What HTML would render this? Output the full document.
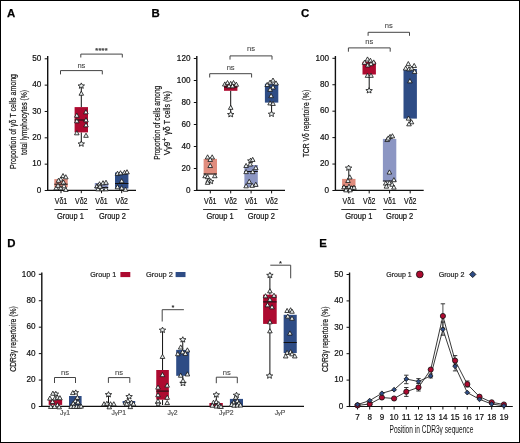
<!DOCTYPE html>
<html><head><meta charset="utf-8"><style>
html,body{margin:0;padding:0;background:#fff;}
body{width:520px;height:443px;overflow:hidden;position:relative;}
.frame{position:absolute;left:0;top:0;width:518px;height:441px;border:1px solid #000;}
svg{position:absolute;left:0;top:0;will-change:transform;}
</style></head><body>
<svg width="520" height="443" viewBox="0 0 520 443" font-family='"Liberation Sans", sans-serif'>
<rect x="0" y="0" width="520" height="443" fill="#fff"/>
<text x="7.00" y="16.80" font-size="11.4" text-anchor="start" fill="#000" font-weight="bold" stroke="#000" stroke-width="0.25">A</text>
<text x="151.60" y="16.90" font-size="11.4" text-anchor="start" fill="#000" font-weight="bold" stroke="#000" stroke-width="0.25">B</text>
<text x="300.90" y="16.90" font-size="11.4" text-anchor="start" fill="#000" font-weight="bold" stroke="#000" stroke-width="0.25">C</text>
<text x="7.30" y="246.70" font-size="11.4" text-anchor="start" fill="#000" font-weight="bold" stroke="#000" stroke-width="0.25">D</text>
<text x="319.20" y="246.70" font-size="11.4" text-anchor="start" fill="#000" font-weight="bold" stroke="#000" stroke-width="0.25">E</text>
<text x="0" y="0" font-size="9.5" text-anchor="middle" fill="#111" stroke="#111" stroke-width="0.2" transform="translate(16.00,121.50) rotate(-90)" textLength="95" lengthAdjust="spacingAndGlyphs">Proportion of γδ T cells among</text>
<text x="0" y="0" font-size="9.3" text-anchor="middle" fill="#111" stroke="#111" stroke-width="0.2" transform="translate(26.60,122.50) rotate(-90)" textLength="65" lengthAdjust="spacingAndGlyphs">total lymphocytes (%)</text>
<line x1="47.70" y1="56.00" x2="47.70" y2="190.90" stroke="#111" stroke-width="1.4"/>
<line x1="44.70" y1="190.50" x2="47.70" y2="190.50" stroke="#111" stroke-width="1"/>
<text x="41.40" y="192.75" font-size="8.6" text-anchor="end" fill="#111" font-weight="normal"  textLength="4.55" lengthAdjust="spacingAndGlyphs" stroke="#111" stroke-width="0.2">0</text>
<line x1="44.70" y1="164.16" x2="47.70" y2="164.16" stroke="#111" stroke-width="1"/>
<text x="41.40" y="166.41" font-size="8.6" text-anchor="end" fill="#111" font-weight="normal"  textLength="9.1" lengthAdjust="spacingAndGlyphs" stroke="#111" stroke-width="0.2">10</text>
<line x1="44.70" y1="137.82" x2="47.70" y2="137.82" stroke="#111" stroke-width="1"/>
<text x="41.40" y="140.07" font-size="8.6" text-anchor="end" fill="#111" font-weight="normal"  textLength="9.1" lengthAdjust="spacingAndGlyphs" stroke="#111" stroke-width="0.2">20</text>
<line x1="44.70" y1="111.48" x2="47.70" y2="111.48" stroke="#111" stroke-width="1"/>
<text x="41.40" y="113.73" font-size="8.6" text-anchor="end" fill="#111" font-weight="normal"  textLength="9.1" lengthAdjust="spacingAndGlyphs" stroke="#111" stroke-width="0.2">30</text>
<line x1="44.70" y1="85.14" x2="47.70" y2="85.14" stroke="#111" stroke-width="1"/>
<text x="41.40" y="87.39" font-size="8.6" text-anchor="end" fill="#111" font-weight="normal"  textLength="9.1" lengthAdjust="spacingAndGlyphs" stroke="#111" stroke-width="0.2">40</text>
<line x1="44.70" y1="58.80" x2="47.70" y2="58.80" stroke="#111" stroke-width="1"/>
<text x="41.40" y="61.05" font-size="8.6" text-anchor="end" fill="#111" font-weight="normal"  textLength="9.1" lengthAdjust="spacingAndGlyphs" stroke="#111" stroke-width="0.2">50</text>
<line x1="47.70" y1="190.30" x2="136.00" y2="190.30" stroke="#111" stroke-width="1.2"/>
<line x1="61.00" y1="190.50" x2="61.00" y2="193.20" stroke="#111" stroke-width="1"/>
<line x1="81.30" y1="190.50" x2="81.30" y2="193.20" stroke="#111" stroke-width="1"/>
<line x1="101.50" y1="190.50" x2="101.50" y2="193.20" stroke="#111" stroke-width="1"/>
<line x1="121.70" y1="190.50" x2="121.70" y2="193.20" stroke="#111" stroke-width="1"/>
<rect x="54.30" y="179.10" width="13.40" height="8.20" fill="#E08C7D"/>
<line x1="54.30" y1="184.20" x2="67.70" y2="184.20" stroke="#111" stroke-width="1"/>
<line x1="81.30" y1="85.60" x2="81.30" y2="107.10" stroke="#111" stroke-width="1"/>
<line x1="81.30" y1="132.40" x2="81.30" y2="143.60" stroke="#111" stroke-width="1"/>
<rect x="74.60" y="107.10" width="13.40" height="25.30" fill="#AD0A30"/>
<line x1="74.60" y1="120.00" x2="88.00" y2="120.00" stroke="#111" stroke-width="1"/>
<rect x="94.80" y="183.00" width="13.40" height="5.80" fill="#8C96C3"/>
<line x1="94.80" y1="187.50" x2="108.20" y2="187.50" stroke="#111" stroke-width="1"/>
<rect x="115.00" y="172.50" width="13.40" height="16.00" fill="#2E4C85"/>
<line x1="115.00" y1="183.50" x2="128.40" y2="183.50" stroke="#111" stroke-width="1"/>
<polygon points="63.00,173.50 60.70,177.64 65.30,177.64" fill="#eef3f3" stroke="#111" stroke-width="0.8" stroke-linejoin="miter"/>
<polygon points="65.80,174.70 63.50,178.84 68.10,178.84" fill="#eef3f3" stroke="#111" stroke-width="0.8" stroke-linejoin="miter"/>
<polygon points="60.80,176.90 58.50,181.04 63.10,181.04" fill="#eef3f3" stroke="#111" stroke-width="0.8" stroke-linejoin="miter"/>
<polygon points="58.50,178.20 56.20,182.34 60.80,182.34" fill="#eef3f3" stroke="#111" stroke-width="0.8" stroke-linejoin="miter"/>
<polygon points="63.50,180.00 61.20,184.14 65.80,184.14" fill="#eef3f3" stroke="#111" stroke-width="0.8" stroke-linejoin="miter"/>
<polygon points="56.20,185.70 53.90,189.84 58.50,189.84" fill="#eef3f3" stroke="#111" stroke-width="0.8" stroke-linejoin="miter"/>
<polygon points="60.80,185.70 58.50,189.84 63.10,189.84" fill="#eef3f3" stroke="#111" stroke-width="0.8" stroke-linejoin="miter"/>
<polygon points="65.80,187.30 63.50,191.44 68.10,191.44" fill="#eef3f3" stroke="#111" stroke-width="0.8" stroke-linejoin="miter"/>
<polygon points="58.00,183.20 55.70,187.34 60.30,187.34" fill="#eef3f3" stroke="#111" stroke-width="0.8" stroke-linejoin="miter"/>
<polygon points="64.00,183.70 61.70,187.84 66.30,187.84" fill="#eef3f3" stroke="#111" stroke-width="0.8" stroke-linejoin="miter"/>
<polygon points="81.30,82.91 82.20,84.81 84.53,84.98 82.76,86.32 83.30,88.32 81.30,87.25 79.30,88.32 79.84,86.32 78.07,84.98 80.40,84.81" fill="#eef3f3" stroke="#111" stroke-width="0.8"/>
<polygon points="81.30,91.10 79.00,95.24 83.60,95.24" fill="#eef3f3" stroke="#111" stroke-width="0.8" stroke-linejoin="miter"/>
<polygon points="85.90,109.70 83.60,113.84 88.20,113.84" fill="#eef3f3" stroke="#111" stroke-width="0.8" stroke-linejoin="miter"/>
<polygon points="76.80,113.10 74.50,117.24 79.10,117.24" fill="#eef3f3" stroke="#111" stroke-width="0.8" stroke-linejoin="miter"/>
<polygon points="76.80,118.70 74.50,122.84 79.10,122.84" fill="#eef3f3" stroke="#111" stroke-width="0.8" stroke-linejoin="miter"/>
<polygon points="86.00,117.70 83.70,121.84 88.30,121.84" fill="#eef3f3" stroke="#111" stroke-width="0.8" stroke-linejoin="miter"/>
<polygon points="86.00,122.70 83.70,126.84 88.30,126.84" fill="#eef3f3" stroke="#111" stroke-width="0.8" stroke-linejoin="miter"/>
<polygon points="76.80,130.70 74.50,134.84 79.10,134.84" fill="#eef3f3" stroke="#111" stroke-width="0.8" stroke-linejoin="miter"/>
<polygon points="86.00,133.20 83.70,137.34 88.30,137.34" fill="#eef3f3" stroke="#111" stroke-width="0.8" stroke-linejoin="miter"/>
<polygon points="81.30,140.91 82.20,142.81 84.53,142.98 82.76,144.32 83.30,146.32 81.30,145.25 79.30,146.32 79.84,144.32 78.07,142.98 80.40,142.81" fill="#eef3f3" stroke="#111" stroke-width="0.8"/>
<polygon points="97.00,183.70 94.70,187.84 99.30,187.84" fill="#eef3f3" stroke="#111" stroke-width="0.8" stroke-linejoin="miter"/>
<polygon points="99.50,181.70 97.20,185.84 101.80,185.84" fill="#eef3f3" stroke="#111" stroke-width="0.8" stroke-linejoin="miter"/>
<polygon points="103.00,180.70 100.70,184.84 105.30,184.84" fill="#eef3f3" stroke="#111" stroke-width="0.8" stroke-linejoin="miter"/>
<polygon points="106.00,180.20 103.70,184.34 108.30,184.34" fill="#eef3f3" stroke="#111" stroke-width="0.8" stroke-linejoin="miter"/>
<polygon points="98.00,186.70 95.70,190.84 100.30,190.84" fill="#eef3f3" stroke="#111" stroke-width="0.8" stroke-linejoin="miter"/>
<polygon points="102.00,186.70 99.70,190.84 104.30,190.84" fill="#eef3f3" stroke="#111" stroke-width="0.8" stroke-linejoin="miter"/>
<polygon points="106.00,186.70 103.70,190.84 108.30,190.84" fill="#eef3f3" stroke="#111" stroke-width="0.8" stroke-linejoin="miter"/>
<polygon points="100.00,184.20 97.70,188.34 102.30,188.34" fill="#eef3f3" stroke="#111" stroke-width="0.8" stroke-linejoin="miter"/>
<polygon points="117.50,171.20 115.20,175.34 119.80,175.34" fill="#eef3f3" stroke="#111" stroke-width="0.8" stroke-linejoin="miter"/>
<polygon points="120.50,170.70 118.20,174.84 122.80,174.84" fill="#eef3f3" stroke="#111" stroke-width="0.8" stroke-linejoin="miter"/>
<polygon points="124.50,170.20 122.20,174.34 126.80,174.34" fill="#eef3f3" stroke="#111" stroke-width="0.8" stroke-linejoin="miter"/>
<polygon points="127.00,169.70 124.70,173.84 129.30,173.84" fill="#eef3f3" stroke="#111" stroke-width="0.8" stroke-linejoin="miter"/>
<polygon points="121.70,178.70 119.40,182.84 124.00,182.84" fill="#eef3f3" stroke="#111" stroke-width="0.8" stroke-linejoin="miter"/>
<polygon points="117.50,184.70 115.20,188.84 119.80,188.84" fill="#eef3f3" stroke="#111" stroke-width="0.8" stroke-linejoin="miter"/>
<polygon points="121.70,185.70 119.40,189.84 124.00,189.84" fill="#eef3f3" stroke="#111" stroke-width="0.8" stroke-linejoin="miter"/>
<polygon points="125.50,187.20 123.20,191.34 127.80,191.34" fill="#eef3f3" stroke="#111" stroke-width="0.8" stroke-linejoin="miter"/>
<path d="M60.50,74.40 V70.60 H102.30 V74.40" fill="none" stroke="#444" stroke-width="1"/>
<text x="81.40" y="67.90" font-size="7.6" text-anchor="middle" fill="#444" font-weight="normal" stroke="#444" stroke-width="0.08">ns</text>
<path d="M80.80,57.50 V54.10 H122.30 V57.50" fill="none" stroke="#444" stroke-width="1"/>
<text x="101.55" y="53.30" font-size="7.2" text-anchor="middle" fill="#444" font-weight="normal" stroke="#444" stroke-width="0.08"><tspan font-weight="bold" stroke="#333" stroke-width="0.15" letter-spacing="0.3">****</tspan></text>
<text x="61.00" y="203.60" font-size="8.4" text-anchor="middle" fill="#111" font-weight="normal"  textLength="12.4" lengthAdjust="spacingAndGlyphs" stroke="#111" stroke-width="0.2">Vδ1</text>
<text x="81.30" y="203.60" font-size="8.4" text-anchor="middle" fill="#111" font-weight="normal"  textLength="12.4" lengthAdjust="spacingAndGlyphs" stroke="#111" stroke-width="0.2">Vδ2</text>
<text x="101.50" y="203.60" font-size="8.4" text-anchor="middle" fill="#111" font-weight="normal"  textLength="12.4" lengthAdjust="spacingAndGlyphs" stroke="#111" stroke-width="0.2">Vδ1</text>
<text x="121.70" y="203.60" font-size="8.4" text-anchor="middle" fill="#111" font-weight="normal"  textLength="12.4" lengthAdjust="spacingAndGlyphs" stroke="#111" stroke-width="0.2">Vδ2</text>
<line x1="54.40" y1="209.50" x2="88.00" y2="209.50" stroke="#333" stroke-width="1"/>
<line x1="95.80" y1="209.50" x2="129.40" y2="209.50" stroke="#333" stroke-width="1"/>
<text x="70.40" y="218.60" font-size="8.4" text-anchor="middle" fill="#111" font-weight="normal"  textLength="26.9" lengthAdjust="spacingAndGlyphs" stroke="#111" stroke-width="0.2">Group 1</text>
<text x="112.40" y="218.60" font-size="8.4" text-anchor="middle" fill="#111" font-weight="normal"  textLength="26.9" lengthAdjust="spacingAndGlyphs" stroke="#111" stroke-width="0.2">Group 2</text>
<text x="0" y="0" font-size="9" text-anchor="middle" fill="#111" stroke="#111" stroke-width="0.2" transform="translate(160.00,122.80) rotate(-90)" textLength="74" lengthAdjust="spacingAndGlyphs">Proportion of cells among</text>
<text x="0" y="0" font-size="9" fill="#111" stroke="#111" stroke-width="0.2" transform="translate(170.2,155.3) rotate(-90)" textLength="29" lengthAdjust="spacingAndGlyphs">V<tspan font-size="7.5">γ</tspan>9<tspan dy="-3.2" font-size="7.5">+</tspan><tspan dy="3.2"> γδ</tspan></text>
<text x="0" y="0" font-size="9" fill="#111" stroke="#111" stroke-width="0.2" transform="translate(170.2,124.2) rotate(-90)" textLength="33" lengthAdjust="spacingAndGlyphs">T cells (%)</text>
<line x1="196.80" y1="56.00" x2="196.80" y2="190.90" stroke="#111" stroke-width="1.4"/>
<line x1="193.80" y1="190.50" x2="196.80" y2="190.50" stroke="#111" stroke-width="1"/>
<text x="190.50" y="192.75" font-size="8.6" text-anchor="end" fill="#111" font-weight="normal"  textLength="4.55" lengthAdjust="spacingAndGlyphs" stroke="#111" stroke-width="0.2">0</text>
<line x1="193.80" y1="168.50" x2="196.80" y2="168.50" stroke="#111" stroke-width="1"/>
<text x="190.50" y="170.75" font-size="8.6" text-anchor="end" fill="#111" font-weight="normal"  textLength="9.1" lengthAdjust="spacingAndGlyphs" stroke="#111" stroke-width="0.2">20</text>
<line x1="193.80" y1="146.50" x2="196.80" y2="146.50" stroke="#111" stroke-width="1"/>
<text x="190.50" y="148.75" font-size="8.6" text-anchor="end" fill="#111" font-weight="normal"  textLength="9.1" lengthAdjust="spacingAndGlyphs" stroke="#111" stroke-width="0.2">40</text>
<line x1="193.80" y1="124.50" x2="196.80" y2="124.50" stroke="#111" stroke-width="1"/>
<text x="190.50" y="126.75" font-size="8.6" text-anchor="end" fill="#111" font-weight="normal"  textLength="9.1" lengthAdjust="spacingAndGlyphs" stroke="#111" stroke-width="0.2">60</text>
<line x1="193.80" y1="102.50" x2="196.80" y2="102.50" stroke="#111" stroke-width="1"/>
<text x="190.50" y="104.75" font-size="8.6" text-anchor="end" fill="#111" font-weight="normal"  textLength="9.1" lengthAdjust="spacingAndGlyphs" stroke="#111" stroke-width="0.2">80</text>
<line x1="193.80" y1="80.50" x2="196.80" y2="80.50" stroke="#111" stroke-width="1"/>
<text x="190.50" y="82.75" font-size="8.6" text-anchor="end" fill="#111" font-weight="normal"  textLength="13.649999999999999" lengthAdjust="spacingAndGlyphs" stroke="#111" stroke-width="0.2">100</text>
<line x1="193.80" y1="58.50" x2="196.80" y2="58.50" stroke="#111" stroke-width="1"/>
<text x="190.50" y="60.75" font-size="8.6" text-anchor="end" fill="#111" font-weight="normal"  textLength="13.649999999999999" lengthAdjust="spacingAndGlyphs" stroke="#111" stroke-width="0.2">120</text>
<line x1="196.80" y1="190.30" x2="285.00" y2="190.30" stroke="#111" stroke-width="1.2"/>
<line x1="210.30" y1="190.50" x2="210.30" y2="193.40" stroke="#111" stroke-width="1"/>
<line x1="230.70" y1="190.50" x2="230.70" y2="193.40" stroke="#111" stroke-width="1"/>
<line x1="251.10" y1="190.50" x2="251.10" y2="193.40" stroke="#111" stroke-width="1"/>
<line x1="271.60" y1="190.50" x2="271.60" y2="193.40" stroke="#111" stroke-width="1"/>
<rect x="203.60" y="158.90" width="13.40" height="15.50" fill="#E08C7D"/>
<line x1="203.60" y1="174.00" x2="217.00" y2="174.00" stroke="#111" stroke-width="1"/>
<line x1="230.70" y1="90.80" x2="230.70" y2="114.00" stroke="#111" stroke-width="1"/>
<rect x="224.00" y="84.20" width="13.40" height="6.60" fill="#AD0A30"/>
<line x1="224.00" y1="87.10" x2="237.40" y2="87.10" stroke="#111" stroke-width="1"/>
<rect x="244.40" y="165.00" width="13.40" height="22.00" fill="#8C96C3"/>
<line x1="244.40" y1="171.50" x2="257.80" y2="171.50" stroke="#111" stroke-width="1"/>
<line x1="271.60" y1="102.60" x2="271.60" y2="113.80" stroke="#111" stroke-width="1"/>
<rect x="264.90" y="83.70" width="13.40" height="18.90" fill="#2E4C85"/>
<polygon points="210.80,178.68 211.65,180.47 213.84,180.63 212.17,181.89 212.68,183.78 210.80,182.77 208.92,183.78 209.43,181.89 207.76,180.63 209.95,180.47" fill="#eef3f3" stroke="#111" stroke-width="0.8"/>
<polygon points="250.60,157.98 251.45,159.77 253.64,159.93 251.97,161.19 252.48,163.08 250.60,162.07 248.72,163.08 249.23,161.19 247.56,159.93 249.75,159.77" fill="#eef3f3" stroke="#111" stroke-width="0.8"/>
<polygon points="207.60,154.80 205.30,158.94 209.90,158.94" fill="#eef3f3" stroke="#111" stroke-width="0.8" stroke-linejoin="miter"/>
<polygon points="212.20,154.80 209.90,158.94 214.50,158.94" fill="#eef3f3" stroke="#111" stroke-width="0.8" stroke-linejoin="miter"/>
<polygon points="210.20,157.30 207.90,161.44 212.50,161.44" fill="#eef3f3" stroke="#111" stroke-width="0.8" stroke-linejoin="miter"/>
<polygon points="210.20,163.40 207.90,167.54 212.50,167.54" fill="#eef3f3" stroke="#111" stroke-width="0.8" stroke-linejoin="miter"/>
<polygon points="205.10,173.60 202.80,177.74 207.40,177.74" fill="#eef3f3" stroke="#111" stroke-width="0.8" stroke-linejoin="miter"/>
<polygon points="207.60,174.60 205.30,178.74 209.90,178.74" fill="#eef3f3" stroke="#111" stroke-width="0.8" stroke-linejoin="miter"/>
<polygon points="214.80,173.60 212.50,177.74 217.10,177.74" fill="#eef3f3" stroke="#111" stroke-width="0.8" stroke-linejoin="miter"/>
<polygon points="208.20,178.20 205.90,182.34 210.50,182.34" fill="#eef3f3" stroke="#111" stroke-width="0.8" stroke-linejoin="miter"/>
<polygon points="207.60,180.20 205.30,184.34 209.90,184.34" fill="#eef3f3" stroke="#111" stroke-width="0.8" stroke-linejoin="miter"/>
<polygon points="252.70,157.30 250.40,161.44 255.00,161.44" fill="#eef3f3" stroke="#111" stroke-width="0.8" stroke-linejoin="miter"/>
<polygon points="250.20,161.90 247.90,166.04 252.50,166.04" fill="#eef3f3" stroke="#111" stroke-width="0.8" stroke-linejoin="miter"/>
<polygon points="246.10,163.40 243.80,167.54 248.40,167.54" fill="#eef3f3" stroke="#111" stroke-width="0.8" stroke-linejoin="miter"/>
<polygon points="255.80,165.50 253.50,169.64 258.10,169.64" fill="#eef3f3" stroke="#111" stroke-width="0.8" stroke-linejoin="miter"/>
<polygon points="246.10,169.50 243.80,173.64 248.40,173.64" fill="#eef3f3" stroke="#111" stroke-width="0.8" stroke-linejoin="miter"/>
<polygon points="252.70,169.50 250.40,173.64 255.00,173.64" fill="#eef3f3" stroke="#111" stroke-width="0.8" stroke-linejoin="miter"/>
<polygon points="249.20,179.20 246.90,183.34 251.50,183.34" fill="#eef3f3" stroke="#111" stroke-width="0.8" stroke-linejoin="miter"/>
<polygon points="246.10,183.70 243.80,187.84 248.40,187.84" fill="#eef3f3" stroke="#111" stroke-width="0.8" stroke-linejoin="miter"/>
<polygon points="252.20,183.20 249.90,187.34 254.50,187.34" fill="#eef3f3" stroke="#111" stroke-width="0.8" stroke-linejoin="miter"/>
<polygon points="255.80,182.20 253.50,186.34 258.10,186.34" fill="#eef3f3" stroke="#111" stroke-width="0.8" stroke-linejoin="miter"/>
<polygon points="224.80,81.90 222.50,86.04 227.10,86.04" fill="#eef3f3" stroke="#111" stroke-width="0.8" stroke-linejoin="miter"/>
<polygon points="227.50,80.50 225.20,84.64 229.80,84.64" fill="#eef3f3" stroke="#111" stroke-width="0.8" stroke-linejoin="miter"/>
<polygon points="230.70,81.30 228.40,85.44 233.00,85.44" fill="#eef3f3" stroke="#111" stroke-width="0.8" stroke-linejoin="miter"/>
<polygon points="233.50,80.50 231.20,84.64 235.80,84.64" fill="#eef3f3" stroke="#111" stroke-width="0.8" stroke-linejoin="miter"/>
<polygon points="236.30,82.10 234.00,86.24 238.60,86.24" fill="#eef3f3" stroke="#111" stroke-width="0.8" stroke-linejoin="miter"/>
<polygon points="229.00,83.70 226.70,87.84 231.30,87.84" fill="#eef3f3" stroke="#111" stroke-width="0.8" stroke-linejoin="miter"/>
<polygon points="232.50,83.70 230.20,87.84 234.80,87.84" fill="#eef3f3" stroke="#111" stroke-width="0.8" stroke-linejoin="miter"/>
<polygon points="230.70,105.20 228.40,109.34 233.00,109.34" fill="#eef3f3" stroke="#111" stroke-width="0.8" stroke-linejoin="miter"/>
<polygon points="230.70,111.51 231.60,113.41 233.93,113.58 232.16,114.92 232.70,116.92 230.70,115.85 228.70,116.92 229.24,114.92 227.47,113.58 229.80,113.41" fill="#eef3f3" stroke="#111" stroke-width="0.8"/>
<polygon points="267.20,82.40 264.90,86.54 269.50,86.54" fill="#eef3f3" stroke="#111" stroke-width="0.8" stroke-linejoin="miter"/>
<polygon points="270.10,80.00 267.80,84.14 272.40,84.14" fill="#eef3f3" stroke="#111" stroke-width="0.8" stroke-linejoin="miter"/>
<polygon points="273.00,78.00 270.70,82.14 275.30,82.14" fill="#eef3f3" stroke="#111" stroke-width="0.8" stroke-linejoin="miter"/>
<polygon points="276.00,80.90 273.70,85.04 278.30,85.04" fill="#eef3f3" stroke="#111" stroke-width="0.8" stroke-linejoin="miter"/>
<polygon points="273.00,84.80 270.70,88.94 275.30,88.94" fill="#eef3f3" stroke="#111" stroke-width="0.8" stroke-linejoin="miter"/>
<polygon points="270.10,87.20 267.80,91.34 272.40,91.34" fill="#eef3f3" stroke="#111" stroke-width="0.8" stroke-linejoin="miter"/>
<polygon points="271.10,93.50 268.80,97.64 273.40,97.64" fill="#eef3f3" stroke="#111" stroke-width="0.8" stroke-linejoin="miter"/>
<polygon points="270.10,100.80 267.80,104.94 272.40,104.94" fill="#eef3f3" stroke="#111" stroke-width="0.8" stroke-linejoin="miter"/>
<polygon points="273.00,101.30 270.70,105.44 275.30,105.44" fill="#eef3f3" stroke="#111" stroke-width="0.8" stroke-linejoin="miter"/>
<polygon points="271.50,111.11 272.40,113.01 274.73,113.18 272.96,114.52 273.50,116.52 271.50,115.45 269.50,116.52 270.04,114.52 268.27,113.18 270.60,113.01" fill="#eef3f3" stroke="#111" stroke-width="0.8"/>
<path d="M209.70,77.50 V73.70 H251.60 V77.50" fill="none" stroke="#444" stroke-width="1"/>
<text x="230.65" y="69.50" font-size="7.6" text-anchor="middle" fill="#444" font-weight="normal" stroke="#444" stroke-width="0.08">ns</text>
<path d="M230.00,59.60 V55.90 H272.00 V59.60" fill="none" stroke="#444" stroke-width="1"/>
<text x="251.00" y="51.20" font-size="7.6" text-anchor="middle" fill="#444" font-weight="normal" stroke="#444" stroke-width="0.08">ns</text>
<text x="210.30" y="203.60" font-size="8.4" text-anchor="middle" fill="#111" font-weight="normal"  textLength="12.4" lengthAdjust="spacingAndGlyphs" stroke="#111" stroke-width="0.2">Vδ1</text>
<text x="230.70" y="203.60" font-size="8.4" text-anchor="middle" fill="#111" font-weight="normal"  textLength="12.4" lengthAdjust="spacingAndGlyphs" stroke="#111" stroke-width="0.2">Vδ2</text>
<text x="251.10" y="203.60" font-size="8.4" text-anchor="middle" fill="#111" font-weight="normal"  textLength="12.4" lengthAdjust="spacingAndGlyphs" stroke="#111" stroke-width="0.2">Vδ1</text>
<text x="271.60" y="203.60" font-size="8.4" text-anchor="middle" fill="#111" font-weight="normal"  textLength="12.4" lengthAdjust="spacingAndGlyphs" stroke="#111" stroke-width="0.2">Vδ2</text>
<line x1="203.10" y1="209.50" x2="237.50" y2="209.50" stroke="#333" stroke-width="1"/>
<line x1="244.70" y1="209.50" x2="278.20" y2="209.50" stroke="#333" stroke-width="1"/>
<text x="220.10" y="218.60" font-size="8.4" text-anchor="middle" fill="#111" font-weight="normal"  textLength="27.2" lengthAdjust="spacingAndGlyphs" stroke="#111" stroke-width="0.2">Group 1</text>
<text x="261.30" y="218.60" font-size="8.4" text-anchor="middle" fill="#111" font-weight="normal"  textLength="27.2" lengthAdjust="spacingAndGlyphs" stroke="#111" stroke-width="0.2">Group 2</text>
<text x="0" y="0" font-size="9.6" text-anchor="middle" fill="#111" stroke="#111" stroke-width="0.2" transform="translate(309.40,123.60) rotate(-90)" textLength="67.5" lengthAdjust="spacingAndGlyphs">TCR Vδ repertoire (%)</text>
<line x1="335.40" y1="56.00" x2="335.40" y2="190.90" stroke="#111" stroke-width="1.4"/>
<line x1="332.40" y1="190.50" x2="335.40" y2="190.50" stroke="#111" stroke-width="1"/>
<text x="329.10" y="192.75" font-size="8.6" text-anchor="end" fill="#111" font-weight="normal"  textLength="4.55" lengthAdjust="spacingAndGlyphs" stroke="#111" stroke-width="0.2">0</text>
<line x1="332.40" y1="164.06" x2="335.40" y2="164.06" stroke="#111" stroke-width="1"/>
<text x="329.10" y="166.31" font-size="8.6" text-anchor="end" fill="#111" font-weight="normal"  textLength="9.1" lengthAdjust="spacingAndGlyphs" stroke="#111" stroke-width="0.2">20</text>
<line x1="332.40" y1="137.62" x2="335.40" y2="137.62" stroke="#111" stroke-width="1"/>
<text x="329.10" y="139.87" font-size="8.6" text-anchor="end" fill="#111" font-weight="normal"  textLength="9.1" lengthAdjust="spacingAndGlyphs" stroke="#111" stroke-width="0.2">40</text>
<line x1="332.40" y1="111.18" x2="335.40" y2="111.18" stroke="#111" stroke-width="1"/>
<text x="329.10" y="113.43" font-size="8.6" text-anchor="end" fill="#111" font-weight="normal"  textLength="9.1" lengthAdjust="spacingAndGlyphs" stroke="#111" stroke-width="0.2">60</text>
<line x1="332.40" y1="84.74" x2="335.40" y2="84.74" stroke="#111" stroke-width="1"/>
<text x="329.10" y="86.99" font-size="8.6" text-anchor="end" fill="#111" font-weight="normal"  textLength="9.1" lengthAdjust="spacingAndGlyphs" stroke="#111" stroke-width="0.2">80</text>
<line x1="332.40" y1="58.30" x2="335.40" y2="58.30" stroke="#111" stroke-width="1"/>
<text x="329.10" y="60.55" font-size="8.6" text-anchor="end" fill="#111" font-weight="normal"  textLength="13.649999999999999" lengthAdjust="spacingAndGlyphs" stroke="#111" stroke-width="0.2">100</text>
<line x1="335.40" y1="190.30" x2="423.70" y2="190.30" stroke="#111" stroke-width="1.2"/>
<line x1="348.80" y1="190.50" x2="348.80" y2="193.40" stroke="#111" stroke-width="1"/>
<line x1="369.20" y1="190.50" x2="369.20" y2="193.40" stroke="#111" stroke-width="1"/>
<line x1="389.60" y1="190.50" x2="389.60" y2="193.40" stroke="#111" stroke-width="1"/>
<line x1="410.20" y1="190.50" x2="410.20" y2="193.40" stroke="#111" stroke-width="1"/>
<line x1="348.80" y1="167.70" x2="348.80" y2="178.90" stroke="#111" stroke-width="1"/>
<rect x="342.10" y="178.90" width="13.40" height="10.40" fill="#E08C7D"/>
<line x1="342.10" y1="186.50" x2="355.50" y2="186.50" stroke="#111" stroke-width="1"/>
<line x1="369.20" y1="74.50" x2="369.20" y2="90.30" stroke="#111" stroke-width="1"/>
<rect x="362.50" y="61.80" width="13.40" height="12.70" fill="#AD0A30"/>
<rect x="382.90" y="138.90" width="13.40" height="42.50" fill="#8C96C3"/>
<line x1="382.90" y1="181.00" x2="396.30" y2="181.00" stroke="#111" stroke-width="1"/>
<line x1="410.20" y1="118.60" x2="410.20" y2="124.00" stroke="#111" stroke-width="1"/>
<rect x="403.50" y="69.00" width="13.40" height="49.60" fill="#2E4C85"/>
<polygon points="348.60,165.01 349.50,166.91 351.83,167.08 350.06,168.42 350.60,170.42 348.60,169.35 346.60,170.42 347.14,168.42 345.37,167.08 347.70,166.91" fill="#eef3f3" stroke="#111" stroke-width="0.8"/>
<polygon points="349.80,174.80 347.50,178.94 352.10,178.94" fill="#eef3f3" stroke="#111" stroke-width="0.8" stroke-linejoin="miter"/>
<polygon points="348.00,178.40 345.70,182.54 350.30,182.54" fill="#eef3f3" stroke="#111" stroke-width="0.8" stroke-linejoin="miter"/>
<polygon points="344.00,184.70 341.70,188.84 346.30,188.84" fill="#eef3f3" stroke="#111" stroke-width="0.8" stroke-linejoin="miter"/>
<polygon points="346.50,186.20 344.20,190.34 348.80,190.34" fill="#eef3f3" stroke="#111" stroke-width="0.8" stroke-linejoin="miter"/>
<polygon points="349.00,184.20 346.70,188.34 351.30,188.34" fill="#eef3f3" stroke="#111" stroke-width="0.8" stroke-linejoin="miter"/>
<polygon points="351.50,185.70 349.20,189.84 353.80,189.84" fill="#eef3f3" stroke="#111" stroke-width="0.8" stroke-linejoin="miter"/>
<polygon points="354.00,185.20 351.70,189.34 356.30,189.34" fill="#eef3f3" stroke="#111" stroke-width="0.8" stroke-linejoin="miter"/>
<polygon points="346.00,187.70 343.70,191.84 348.30,191.84" fill="#eef3f3" stroke="#111" stroke-width="0.8" stroke-linejoin="miter"/>
<polygon points="350.00,187.70 347.70,191.84 352.30,191.84" fill="#eef3f3" stroke="#111" stroke-width="0.8" stroke-linejoin="miter"/>
<polygon points="364.50,60.20 362.20,64.34 366.80,64.34" fill="#eef3f3" stroke="#111" stroke-width="0.8" stroke-linejoin="miter"/>
<polygon points="367.50,56.90 365.20,61.04 369.80,61.04" fill="#eef3f3" stroke="#111" stroke-width="0.8" stroke-linejoin="miter"/>
<polygon points="370.40,58.20 368.10,62.34 372.70,62.34" fill="#eef3f3" stroke="#111" stroke-width="0.8" stroke-linejoin="miter"/>
<polygon points="373.70,59.90 371.40,64.04 376.00,64.04" fill="#eef3f3" stroke="#111" stroke-width="0.8" stroke-linejoin="miter"/>
<polygon points="367.80,62.80 365.50,66.94 370.10,66.94" fill="#eef3f3" stroke="#111" stroke-width="0.8" stroke-linejoin="miter"/>
<polygon points="371.00,61.50 368.70,65.64 373.30,65.64" fill="#eef3f3" stroke="#111" stroke-width="0.8" stroke-linejoin="miter"/>
<polygon points="367.50,73.20 365.20,77.34 369.80,77.34" fill="#eef3f3" stroke="#111" stroke-width="0.8" stroke-linejoin="miter"/>
<polygon points="371.00,73.20 368.70,77.34 373.30,77.34" fill="#eef3f3" stroke="#111" stroke-width="0.8" stroke-linejoin="miter"/>
<polygon points="369.10,87.61 370.00,89.51 372.33,89.68 370.56,91.02 371.10,93.02 369.10,91.95 367.10,93.02 367.64,91.02 365.87,89.68 368.20,89.51" fill="#eef3f3" stroke="#111" stroke-width="0.8"/>
<polygon points="387.20,137.40 384.90,141.54 389.50,141.54" fill="#eef3f3" stroke="#111" stroke-width="0.8" stroke-linejoin="miter"/>
<polygon points="390.10,134.40 387.80,138.54 392.40,138.54" fill="#eef3f3" stroke="#111" stroke-width="0.8" stroke-linejoin="miter"/>
<polygon points="392.40,133.70 390.10,137.84 394.70,137.84" fill="#eef3f3" stroke="#111" stroke-width="0.8" stroke-linejoin="miter"/>
<polygon points="388.20,135.90 385.90,140.04 390.50,140.04" fill="#eef3f3" stroke="#111" stroke-width="0.8" stroke-linejoin="miter"/>
<polygon points="389.40,169.90 387.10,174.04 391.70,174.04" fill="#eef3f3" stroke="#111" stroke-width="0.8" stroke-linejoin="miter"/>
<polygon points="393.90,177.60 391.60,181.74 396.20,181.74" fill="#eef3f3" stroke="#111" stroke-width="0.8" stroke-linejoin="miter"/>
<polygon points="385.70,181.00 383.40,185.14 388.00,185.14" fill="#eef3f3" stroke="#111" stroke-width="0.8" stroke-linejoin="miter"/>
<polygon points="389.40,180.60 387.10,184.74 391.70,184.74" fill="#eef3f3" stroke="#111" stroke-width="0.8" stroke-linejoin="miter"/>
<polygon points="392.10,182.10 389.80,186.24 394.40,186.24" fill="#eef3f3" stroke="#111" stroke-width="0.8" stroke-linejoin="miter"/>
<polygon points="386.40,184.00 384.10,188.14 388.70,188.14" fill="#eef3f3" stroke="#111" stroke-width="0.8" stroke-linejoin="miter"/>
<polygon points="393.90,185.00 391.60,189.14 396.20,189.14" fill="#eef3f3" stroke="#111" stroke-width="0.8" stroke-linejoin="miter"/>
<polygon points="408.30,61.50 406.00,65.64 410.60,65.64" fill="#eef3f3" stroke="#111" stroke-width="0.8" stroke-linejoin="miter"/>
<polygon points="405.70,66.00 403.40,70.14 408.00,70.14" fill="#eef3f3" stroke="#111" stroke-width="0.8" stroke-linejoin="miter"/>
<polygon points="409.00,66.70 406.70,70.84 411.30,70.84" fill="#eef3f3" stroke="#111" stroke-width="0.8" stroke-linejoin="miter"/>
<polygon points="411.60,66.00 409.30,70.14 413.90,70.14" fill="#eef3f3" stroke="#111" stroke-width="0.8" stroke-linejoin="miter"/>
<polygon points="414.20,63.40 411.90,67.54 416.50,67.54" fill="#eef3f3" stroke="#111" stroke-width="0.8" stroke-linejoin="miter"/>
<polygon points="414.60,69.30 412.30,73.44 416.90,73.44" fill="#eef3f3" stroke="#111" stroke-width="0.8" stroke-linejoin="miter"/>
<polygon points="409.90,78.70 407.60,82.84 412.20,82.84" fill="#eef3f3" stroke="#111" stroke-width="0.8" stroke-linejoin="miter"/>
<polygon points="408.50,116.00 406.20,120.14 410.80,120.14" fill="#eef3f3" stroke="#111" stroke-width="0.8" stroke-linejoin="miter"/>
<polygon points="411.50,119.70 409.20,123.84 413.80,123.84" fill="#eef3f3" stroke="#111" stroke-width="0.8" stroke-linejoin="miter"/>
<polygon points="409.00,121.70 406.70,125.84 411.30,125.84" fill="#eef3f3" stroke="#111" stroke-width="0.8" stroke-linejoin="miter"/>
<path d="M348.40,51.70 V47.90 H390.20 V51.70" fill="none" stroke="#444" stroke-width="1"/>
<text x="369.30" y="43.50" font-size="7.6" text-anchor="middle" fill="#444" font-weight="normal" stroke="#444" stroke-width="0.08">ns</text>
<path d="M368.10,35.80 V32.30 H409.50 V35.80" fill="none" stroke="#444" stroke-width="1"/>
<text x="388.80" y="27.50" font-size="7.6" text-anchor="middle" fill="#444" font-weight="normal" stroke="#444" stroke-width="0.08">ns</text>
<text x="348.80" y="203.60" font-size="8.4" text-anchor="middle" fill="#111" font-weight="normal"  textLength="12.4" lengthAdjust="spacingAndGlyphs" stroke="#111" stroke-width="0.2">Vδ1</text>
<text x="369.20" y="203.60" font-size="8.4" text-anchor="middle" fill="#111" font-weight="normal"  textLength="12.4" lengthAdjust="spacingAndGlyphs" stroke="#111" stroke-width="0.2">Vδ2</text>
<text x="389.60" y="203.60" font-size="8.4" text-anchor="middle" fill="#111" font-weight="normal"  textLength="12.4" lengthAdjust="spacingAndGlyphs" stroke="#111" stroke-width="0.2">Vδ1</text>
<text x="410.20" y="203.60" font-size="8.4" text-anchor="middle" fill="#111" font-weight="normal"  textLength="12.4" lengthAdjust="spacingAndGlyphs" stroke="#111" stroke-width="0.2">Vδ2</text>
<line x1="341.30" y1="209.50" x2="376.30" y2="209.50" stroke="#333" stroke-width="1"/>
<line x1="383.00" y1="209.50" x2="416.90" y2="209.50" stroke="#333" stroke-width="1"/>
<text x="358.80" y="218.60" font-size="8.4" text-anchor="middle" fill="#111" font-weight="normal"  textLength="27.2" lengthAdjust="spacingAndGlyphs" stroke="#111" stroke-width="0.2">Group 1</text>
<text x="399.70" y="218.60" font-size="8.4" text-anchor="middle" fill="#111" font-weight="normal"  textLength="27.2" lengthAdjust="spacingAndGlyphs" stroke="#111" stroke-width="0.2">Group 2</text>
<text x="0" y="0" font-size="9.6" text-anchor="middle" fill="#111" stroke="#111" stroke-width="0.2" transform="translate(16.20,339.00) rotate(-90)" textLength="65.5" lengthAdjust="spacingAndGlyphs">CDR3γ repertoire (%)</text>
<line x1="41.80" y1="272.50" x2="41.80" y2="406.90" stroke="#111" stroke-width="1.4"/>
<line x1="38.80" y1="406.50" x2="41.80" y2="406.50" stroke="#111" stroke-width="1"/>
<text x="35.50" y="408.75" font-size="8.6" text-anchor="end" fill="#111" font-weight="normal"  textLength="4.55" lengthAdjust="spacingAndGlyphs" stroke="#111" stroke-width="0.2">0</text>
<line x1="38.80" y1="380.06" x2="41.80" y2="380.06" stroke="#111" stroke-width="1"/>
<text x="35.50" y="382.31" font-size="8.6" text-anchor="end" fill="#111" font-weight="normal"  textLength="9.1" lengthAdjust="spacingAndGlyphs" stroke="#111" stroke-width="0.2">20</text>
<line x1="38.80" y1="353.62" x2="41.80" y2="353.62" stroke="#111" stroke-width="1"/>
<text x="35.50" y="355.87" font-size="8.6" text-anchor="end" fill="#111" font-weight="normal"  textLength="9.1" lengthAdjust="spacingAndGlyphs" stroke="#111" stroke-width="0.2">40</text>
<line x1="38.80" y1="327.18" x2="41.80" y2="327.18" stroke="#111" stroke-width="1"/>
<text x="35.50" y="329.43" font-size="8.6" text-anchor="end" fill="#111" font-weight="normal"  textLength="9.1" lengthAdjust="spacingAndGlyphs" stroke="#111" stroke-width="0.2">60</text>
<line x1="38.80" y1="300.74" x2="41.80" y2="300.74" stroke="#111" stroke-width="1"/>
<text x="35.50" y="302.99" font-size="8.6" text-anchor="end" fill="#111" font-weight="normal"  textLength="9.1" lengthAdjust="spacingAndGlyphs" stroke="#111" stroke-width="0.2">80</text>
<line x1="38.80" y1="274.30" x2="41.80" y2="274.30" stroke="#111" stroke-width="1"/>
<text x="35.50" y="276.55" font-size="8.6" text-anchor="end" fill="#111" font-weight="normal"  textLength="13.649999999999999" lengthAdjust="spacingAndGlyphs" stroke="#111" stroke-width="0.2">100</text>
<line x1="41.80" y1="406.30" x2="304.00" y2="406.30" stroke="#111" stroke-width="1.2"/>
<text x="103.30" y="277.30" font-size="7.8" text-anchor="middle" fill="#222" font-weight="normal"  textLength="26.1" lengthAdjust="spacingAndGlyphs" stroke="#222" stroke-width="0.2">Group 1</text>
<rect x="120.40" y="272.00" width="9.90" height="5.10" fill="#AD0A30"/>
<text x="159.50" y="277.30" font-size="7.8" text-anchor="middle" fill="#222" font-weight="normal"  textLength="26.9" lengthAdjust="spacingAndGlyphs" stroke="#222" stroke-width="0.2">Group 2</text>
<rect x="175.60" y="272.00" width="9.90" height="5.10" fill="#2E4C85"/>
<rect x="48.65" y="399.80" width="13.50" height="5.10" fill="#AD0A30"/>
<rect x="69.00" y="396.00" width="12.60" height="10.30" fill="#2E4C85"/>
<polygon points="55.80,391.26 56.59,392.94 58.65,393.08 57.08,394.27 57.56,396.04 55.80,395.09 54.04,396.04 54.52,394.27 52.95,393.08 55.01,392.94" fill="#eef3f3" stroke="#111" stroke-width="0.8"/>
<polygon points="75.80,389.86 76.59,391.54 78.65,391.68 77.08,392.87 77.56,394.64 75.80,393.69 74.04,394.64 74.52,392.87 72.95,391.68 75.01,391.54" fill="#eef3f3" stroke="#111" stroke-width="0.8"/>
<polygon points="52.90,391.10 50.60,395.24 55.20,395.24" fill="#eef3f3" stroke="#111" stroke-width="0.8" stroke-linejoin="miter"/>
<polygon points="49.90,396.00 47.60,400.14 52.20,400.14" fill="#eef3f3" stroke="#111" stroke-width="0.8" stroke-linejoin="miter"/>
<polygon points="55.00,396.00 52.70,400.14 57.30,400.14" fill="#eef3f3" stroke="#111" stroke-width="0.8" stroke-linejoin="miter"/>
<polygon points="57.50,395.20 55.20,399.34 59.80,399.34" fill="#eef3f3" stroke="#111" stroke-width="0.8" stroke-linejoin="miter"/>
<polygon points="59.90,395.60 57.60,399.74 62.20,399.74" fill="#eef3f3" stroke="#111" stroke-width="0.8" stroke-linejoin="miter"/>
<polygon points="52.50,399.40 50.20,403.54 54.80,403.54" fill="#eef3f3" stroke="#111" stroke-width="0.8" stroke-linejoin="miter"/>
<polygon points="57.50,402.70 55.20,406.84 59.80,406.84" fill="#eef3f3" stroke="#111" stroke-width="0.8" stroke-linejoin="miter"/>
<polygon points="50.80,404.30 48.50,408.44 53.10,408.44" fill="#eef3f3" stroke="#111" stroke-width="0.8" stroke-linejoin="miter"/>
<polygon points="54.50,404.30 52.20,408.44 56.80,408.44" fill="#eef3f3" stroke="#111" stroke-width="0.8" stroke-linejoin="miter"/>
<polygon points="59.20,404.70 56.90,408.84 61.50,408.84" fill="#eef3f3" stroke="#111" stroke-width="0.8" stroke-linejoin="miter"/>
<polygon points="72.80,390.50 70.50,394.64 75.10,394.64" fill="#eef3f3" stroke="#111" stroke-width="0.8" stroke-linejoin="miter"/>
<polygon points="77.40,395.20 75.10,399.34 79.70,399.34" fill="#eef3f3" stroke="#111" stroke-width="0.8" stroke-linejoin="miter"/>
<polygon points="75.30,398.60 73.00,402.74 77.60,402.74" fill="#eef3f3" stroke="#111" stroke-width="0.8" stroke-linejoin="miter"/>
<polygon points="78.00,399.80 75.70,403.94 80.30,403.94" fill="#eef3f3" stroke="#111" stroke-width="0.8" stroke-linejoin="miter"/>
<polygon points="73.20,401.10 70.90,405.24 75.50,405.24" fill="#eef3f3" stroke="#111" stroke-width="0.8" stroke-linejoin="miter"/>
<polygon points="71.10,404.30 68.80,408.44 73.40,408.44" fill="#eef3f3" stroke="#111" stroke-width="0.8" stroke-linejoin="miter"/>
<polygon points="73.90,404.30 71.60,408.44 76.20,408.44" fill="#eef3f3" stroke="#111" stroke-width="0.8" stroke-linejoin="miter"/>
<polygon points="76.60,404.30 74.30,408.44 78.90,408.44" fill="#eef3f3" stroke="#111" stroke-width="0.8" stroke-linejoin="miter"/>
<polygon points="79.20,404.30 76.90,408.44 81.50,408.44" fill="#eef3f3" stroke="#111" stroke-width="0.8" stroke-linejoin="miter"/>
<polygon points="81.10,404.00 78.80,408.14 83.40,408.14" fill="#eef3f3" stroke="#111" stroke-width="0.8" stroke-linejoin="miter"/>
<path d="M54.50,383.00 V377.50 H75.50 V383.00" fill="none" stroke="#444" stroke-width="1"/>
<text x="65.00" y="374.60" font-size="7.6" text-anchor="middle" fill="#444" font-weight="normal" stroke="#444" stroke-width="0.08">ns</text>
<line x1="108.50" y1="394.30" x2="108.50" y2="403.00" stroke="#111" stroke-width="1"/>
<rect x="122.60" y="401.00" width="12.60" height="2.20" fill="#2E4C85"/>
<polygon points="108.50,391.61 109.40,393.51 111.73,393.68 109.96,395.02 110.50,397.02 108.50,395.95 106.50,397.02 107.04,395.02 105.27,393.68 107.60,393.51" fill="#eef3f3" stroke="#111" stroke-width="0.8"/>
<polygon points="129.10,393.61 130.00,395.51 132.33,395.68 130.56,397.02 131.10,399.02 129.10,397.95 127.10,399.02 127.64,397.02 125.87,395.68 128.20,395.51" fill="#eef3f3" stroke="#111" stroke-width="0.8"/>
<polygon points="104.00,401.70 101.70,405.84 106.30,405.84" fill="#eef3f3" stroke="#111" stroke-width="0.8" stroke-linejoin="miter"/>
<polygon points="106.90,401.20 104.60,405.34 109.20,405.34" fill="#eef3f3" stroke="#111" stroke-width="0.8" stroke-linejoin="miter"/>
<polygon points="110.50,401.70 108.20,405.84 112.80,405.84" fill="#eef3f3" stroke="#111" stroke-width="0.8" stroke-linejoin="miter"/>
<polygon points="113.80,401.70 111.50,405.84 116.10,405.84" fill="#eef3f3" stroke="#111" stroke-width="0.8" stroke-linejoin="miter"/>
<polygon points="109.30,404.70 107.00,408.84 111.60,408.84" fill="#eef3f3" stroke="#111" stroke-width="0.8" stroke-linejoin="miter"/>
<polygon points="125.50,400.10 123.20,404.24 127.80,404.24" fill="#eef3f3" stroke="#111" stroke-width="0.8" stroke-linejoin="miter"/>
<polygon points="127.90,398.50 125.60,402.64 130.20,402.64" fill="#eef3f3" stroke="#111" stroke-width="0.8" stroke-linejoin="miter"/>
<polygon points="131.50,400.10 129.20,404.24 133.80,404.24" fill="#eef3f3" stroke="#111" stroke-width="0.8" stroke-linejoin="miter"/>
<polygon points="126.70,401.70 124.40,405.84 129.00,405.84" fill="#eef3f3" stroke="#111" stroke-width="0.8" stroke-linejoin="miter"/>
<polygon points="133.50,401.70 131.20,405.84 135.80,405.84" fill="#eef3f3" stroke="#111" stroke-width="0.8" stroke-linejoin="miter"/>
<polygon points="130.30,404.50 128.00,408.64 132.60,408.64" fill="#eef3f3" stroke="#111" stroke-width="0.8" stroke-linejoin="miter"/>
<path d="M108.40,382.90 V377.60 H129.80 V382.90" fill="none" stroke="#444" stroke-width="1"/>
<text x="119.10" y="374.80" font-size="7.6" text-anchor="middle" fill="#444" font-weight="normal" stroke="#444" stroke-width="0.08">ns</text>
<line x1="162.55" y1="329.80" x2="162.55" y2="370.00" stroke="#111" stroke-width="1"/>
<line x1="162.55" y1="399.70" x2="162.55" y2="405.00" stroke="#111" stroke-width="1"/>
<rect x="156.25" y="370.00" width="12.60" height="29.70" fill="#AD0A30"/>
<line x1="156.25" y1="391.10" x2="168.85" y2="391.10" stroke="#111" stroke-width="1"/>
<polygon points="162.50,327.11 163.40,329.01 165.73,329.18 163.96,330.52 164.50,332.52 162.50,331.45 160.50,332.52 161.04,330.52 159.27,329.18 161.60,329.01" fill="#eef3f3" stroke="#111" stroke-width="0.8"/>
<polygon points="162.50,354.30 160.20,358.44 164.80,358.44" fill="#eef3f3" stroke="#111" stroke-width="0.8" stroke-linejoin="miter"/>
<polygon points="158.20,401.46 158.99,403.14 161.05,403.28 159.48,404.47 159.96,406.24 158.20,405.29 156.44,406.24 156.92,404.47 155.35,403.28 157.41,403.14" fill="#eef3f3" stroke="#111" stroke-width="0.8"/>
<polygon points="162.50,372.50 160.20,376.64 164.80,376.64" fill="#eef3f3" stroke="#111" stroke-width="0.8" stroke-linejoin="miter"/>
<polygon points="158.00,385.00 155.70,389.14 160.30,389.14" fill="#eef3f3" stroke="#111" stroke-width="0.8" stroke-linejoin="miter"/>
<polygon points="167.20,383.00 164.90,387.14 169.50,387.14" fill="#eef3f3" stroke="#111" stroke-width="0.8" stroke-linejoin="miter"/>
<polygon points="158.00,392.60 155.70,396.74 160.30,396.74" fill="#eef3f3" stroke="#111" stroke-width="0.8" stroke-linejoin="miter"/>
<polygon points="167.20,395.10 164.90,399.24 169.50,399.24" fill="#eef3f3" stroke="#111" stroke-width="0.8" stroke-linejoin="miter"/>
<polygon points="158.00,398.70 155.70,402.84 160.30,402.84" fill="#eef3f3" stroke="#111" stroke-width="0.8" stroke-linejoin="miter"/>
<polygon points="167.20,400.50 164.90,404.64 169.50,404.64" fill="#eef3f3" stroke="#111" stroke-width="0.8" stroke-linejoin="miter"/>
<line x1="182.75" y1="339.40" x2="182.75" y2="349.90" stroke="#111" stroke-width="1"/>
<line x1="182.75" y1="375.80" x2="182.75" y2="382.90" stroke="#111" stroke-width="1"/>
<rect x="176.20" y="349.90" width="13.10" height="25.90" fill="#2E4C85"/>
<polygon points="182.80,336.71 183.70,338.61 186.03,338.78 184.26,340.12 184.80,342.12 182.80,341.05 180.80,342.12 181.34,340.12 179.57,338.78 181.90,338.61" fill="#eef3f3" stroke="#111" stroke-width="0.8"/>
<polygon points="183.00,380.31 183.90,382.21 186.23,382.38 184.46,383.72 185.00,385.72 183.00,384.65 181.00,385.72 181.54,383.72 179.77,382.38 182.10,382.21" fill="#eef3f3" stroke="#111" stroke-width="0.8"/>
<polygon points="180.70,344.90 178.40,349.04 183.00,349.04" fill="#eef3f3" stroke="#111" stroke-width="0.8" stroke-linejoin="miter"/>
<polygon points="187.40,347.80 185.10,351.94 189.70,351.94" fill="#eef3f3" stroke="#111" stroke-width="0.8" stroke-linejoin="miter"/>
<polygon points="182.60,349.70 180.30,353.84 184.90,353.84" fill="#eef3f3" stroke="#111" stroke-width="0.8" stroke-linejoin="miter"/>
<polygon points="177.80,351.60 175.50,355.74 180.10,355.74" fill="#eef3f3" stroke="#111" stroke-width="0.8" stroke-linejoin="miter"/>
<polygon points="185.40,351.30 183.10,355.44 187.70,355.44" fill="#eef3f3" stroke="#111" stroke-width="0.8" stroke-linejoin="miter"/>
<polygon points="180.70,373.10 178.40,377.24 183.00,377.24" fill="#eef3f3" stroke="#111" stroke-width="0.8" stroke-linejoin="miter"/>
<polygon points="187.40,371.80 185.10,375.94 189.70,375.94" fill="#eef3f3" stroke="#111" stroke-width="0.8" stroke-linejoin="miter"/>
<polygon points="183.00,378.30 180.70,382.44 185.30,382.44" fill="#eef3f3" stroke="#111" stroke-width="0.8" stroke-linejoin="miter"/>
<path d="M162.2,321.5 V309.7 H183.9" fill="none" stroke="#444" stroke-width="1"/>
<text x="172.90" y="310.30" font-size="7.5" text-anchor="middle" fill="#222" font-weight="bold" >*</text>
<rect x="209.40" y="403.00" width="13.40" height="3.30" fill="#AD0A30"/>
<rect x="229.90" y="398.90" width="13.10" height="7.40" fill="#2E4C85"/>
<line x1="216.30" y1="394.50" x2="216.30" y2="401.00" stroke="#111" stroke-width="1"/>
<polygon points="216.30,391.81 217.20,393.71 219.53,393.88 217.76,395.22 218.30,397.22 216.30,396.15 214.30,397.22 214.84,395.22 213.07,393.88 215.40,393.71" fill="#eef3f3" stroke="#111" stroke-width="0.8"/>
<polygon points="236.50,392.21 237.40,394.11 239.73,394.28 237.96,395.62 238.50,397.62 236.50,396.55 234.50,397.62 235.04,395.62 233.27,394.28 235.60,394.11" fill="#eef3f3" stroke="#111" stroke-width="0.8"/>
<polygon points="213.50,400.20 211.20,404.34 215.80,404.34" fill="#eef3f3" stroke="#111" stroke-width="0.8" stroke-linejoin="miter"/>
<polygon points="216.30,399.40 214.00,403.54 218.60,403.54" fill="#eef3f3" stroke="#111" stroke-width="0.8" stroke-linejoin="miter"/>
<polygon points="218.70,401.50 216.40,405.64 221.00,405.64" fill="#eef3f3" stroke="#111" stroke-width="0.8" stroke-linejoin="miter"/>
<polygon points="212.30,403.10 210.00,407.24 214.60,407.24" fill="#eef3f3" stroke="#111" stroke-width="0.8" stroke-linejoin="miter"/>
<polygon points="216.30,403.90 214.00,408.04 218.60,408.04" fill="#eef3f3" stroke="#111" stroke-width="0.8" stroke-linejoin="miter"/>
<polygon points="219.50,403.90 217.20,408.04 221.80,408.04" fill="#eef3f3" stroke="#111" stroke-width="0.8" stroke-linejoin="miter"/>
<polygon points="221.00,404.30 218.70,408.44 223.30,408.44" fill="#eef3f3" stroke="#111" stroke-width="0.8" stroke-linejoin="miter"/>
<polygon points="235.70,395.20 233.40,399.34 238.00,399.34" fill="#eef3f3" stroke="#111" stroke-width="0.8" stroke-linejoin="miter"/>
<polygon points="233.70,400.20 231.40,404.34 236.00,404.34" fill="#eef3f3" stroke="#111" stroke-width="0.8" stroke-linejoin="miter"/>
<polygon points="237.30,398.60 235.00,402.74 239.60,402.74" fill="#eef3f3" stroke="#111" stroke-width="0.8" stroke-linejoin="miter"/>
<polygon points="231.70,402.30 229.40,406.44 234.00,406.44" fill="#eef3f3" stroke="#111" stroke-width="0.8" stroke-linejoin="miter"/>
<polygon points="238.90,401.00 236.60,405.14 241.20,405.14" fill="#eef3f3" stroke="#111" stroke-width="0.8" stroke-linejoin="miter"/>
<polygon points="234.10,403.10 231.80,407.24 236.40,407.24" fill="#eef3f3" stroke="#111" stroke-width="0.8" stroke-linejoin="miter"/>
<polygon points="237.30,402.90 235.00,407.04 239.60,407.04" fill="#eef3f3" stroke="#111" stroke-width="0.8" stroke-linejoin="miter"/>
<polygon points="240.50,402.90 238.20,407.04 242.80,407.04" fill="#eef3f3" stroke="#111" stroke-width="0.8" stroke-linejoin="miter"/>
<path d="M216.30,383.20 V377.20 H237.30 V383.20" fill="none" stroke="#444" stroke-width="1"/>
<text x="226.80" y="375.30" font-size="7.6" text-anchor="middle" fill="#444" font-weight="normal" stroke="#444" stroke-width="0.08">ns</text>
<line x1="269.90" y1="275.00" x2="269.90" y2="294.70" stroke="#111" stroke-width="1"/>
<line x1="269.90" y1="323.90" x2="269.90" y2="375.60" stroke="#111" stroke-width="1"/>
<rect x="263.10" y="294.70" width="13.60" height="29.20" fill="#AD0A30"/>
<line x1="263.10" y1="301.90" x2="276.70" y2="301.90" stroke="#111" stroke-width="1"/>
<polygon points="269.90,272.31 270.80,274.21 273.13,274.38 271.36,275.72 271.90,277.72 269.90,276.65 267.90,277.72 268.44,275.72 266.67,274.38 269.00,274.21" fill="#eef3f3" stroke="#111" stroke-width="0.8"/>
<polygon points="269.50,372.91 270.40,374.81 272.73,374.98 270.96,376.32 271.50,378.32 269.50,377.25 267.50,378.32 268.04,376.32 266.27,374.98 268.60,374.81" fill="#eef3f3" stroke="#111" stroke-width="0.8"/>
<polygon points="269.90,288.70 267.60,292.84 272.20,292.84" fill="#eef3f3" stroke="#111" stroke-width="0.8" stroke-linejoin="miter"/>
<polygon points="265.50,293.70 263.20,297.84 267.80,297.84" fill="#eef3f3" stroke="#111" stroke-width="0.8" stroke-linejoin="miter"/>
<polygon points="274.00,293.20 271.70,297.34 276.30,297.34" fill="#eef3f3" stroke="#111" stroke-width="0.8" stroke-linejoin="miter"/>
<polygon points="269.90,297.20 267.60,301.34 272.20,301.34" fill="#eef3f3" stroke="#111" stroke-width="0.8" stroke-linejoin="miter"/>
<polygon points="267.50,302.70 265.20,306.84 269.80,306.84" fill="#eef3f3" stroke="#111" stroke-width="0.8" stroke-linejoin="miter"/>
<polygon points="272.00,304.70 269.70,308.84 274.30,308.84" fill="#eef3f3" stroke="#111" stroke-width="0.8" stroke-linejoin="miter"/>
<polygon points="269.90,319.70 267.60,323.84 272.20,323.84" fill="#eef3f3" stroke="#111" stroke-width="0.8" stroke-linejoin="miter"/>
<polygon points="269.90,328.70 267.60,332.84 272.20,332.84" fill="#eef3f3" stroke="#111" stroke-width="0.8" stroke-linejoin="miter"/>
<rect x="283.65" y="314.80" width="13.10" height="38.20" fill="#2E4C85"/>
<line x1="283.65" y1="342.50" x2="296.75" y2="342.50" stroke="#111" stroke-width="1"/>
<polygon points="287.10,308.40 284.80,312.54 289.40,312.54" fill="#eef3f3" stroke="#111" stroke-width="0.8" stroke-linejoin="miter"/>
<polygon points="290.60,307.70 288.30,311.84 292.90,311.84" fill="#eef3f3" stroke="#111" stroke-width="0.8" stroke-linejoin="miter"/>
<polygon points="292.00,309.10 289.70,313.24 294.30,313.24" fill="#eef3f3" stroke="#111" stroke-width="0.8" stroke-linejoin="miter"/>
<polygon points="287.80,314.00 285.50,318.14 290.10,318.14" fill="#eef3f3" stroke="#111" stroke-width="0.8" stroke-linejoin="miter"/>
<polygon points="292.00,316.10 289.70,320.24 294.30,320.24" fill="#eef3f3" stroke="#111" stroke-width="0.8" stroke-linejoin="miter"/>
<polygon points="289.90,330.90 287.60,335.04 292.20,335.04" fill="#eef3f3" stroke="#111" stroke-width="0.8" stroke-linejoin="miter"/>
<polygon points="287.10,350.30 284.80,354.44 289.40,354.44" fill="#eef3f3" stroke="#111" stroke-width="0.8" stroke-linejoin="miter"/>
<polygon points="290.60,349.60 288.30,353.74 292.90,353.74" fill="#eef3f3" stroke="#111" stroke-width="0.8" stroke-linejoin="miter"/>
<polygon points="292.00,351.70 289.70,355.84 294.30,355.84" fill="#eef3f3" stroke="#111" stroke-width="0.8" stroke-linejoin="miter"/>
<polygon points="285.70,353.80 283.40,357.94 288.00,357.94" fill="#eef3f3" stroke="#111" stroke-width="0.8" stroke-linejoin="miter"/>
<polygon points="294.80,353.80 292.50,357.94 297.10,357.94" fill="#eef3f3" stroke="#111" stroke-width="0.8" stroke-linejoin="miter"/>
<path d="M270.3,265.2 H290.7 V278.3" fill="none" stroke="#444" stroke-width="1"/>
<text x="280.50" y="265.90" font-size="7.5" text-anchor="middle" fill="#222" font-weight="bold" >*</text>
<text x="65.00" y="415.30" font-size="6.8" text-anchor="middle" fill="#555" font-weight="normal"  stroke="#555" stroke-width="0.2">J<tspan font-size="5.5">γ</tspan>1</text>
<text x="118.80" y="415.30" font-size="6.8" text-anchor="middle" fill="#555" font-weight="normal"  stroke="#555" stroke-width="0.2">J<tspan font-size="5.5">γ</tspan>P1</text>
<text x="172.50" y="415.30" font-size="6.8" text-anchor="middle" fill="#555" font-weight="normal"  stroke="#555" stroke-width="0.2">J<tspan font-size="5.5">γ</tspan>2</text>
<text x="226.30" y="415.30" font-size="6.8" text-anchor="middle" fill="#555" font-weight="normal"  stroke="#555" stroke-width="0.2">J<tspan font-size="5.5">γ</tspan>P2</text>
<text x="280.00" y="415.30" font-size="6.8" text-anchor="middle" fill="#555" font-weight="normal"  stroke="#555" stroke-width="0.2">J<tspan font-size="5.5">γ</tspan>P</text>
<text x="0" y="0" font-size="9.6" text-anchor="middle" fill="#111" stroke="#111" stroke-width="0.2" transform="translate(328.40,339.20) rotate(-90)" textLength="65.5" lengthAdjust="spacingAndGlyphs">CDR3γ repertoire (%)</text>
<line x1="349.55" y1="272.50" x2="349.55" y2="407.10" stroke="#111" stroke-width="1.4"/>
<line x1="346.55" y1="406.50" x2="349.55" y2="406.50" stroke="#111" stroke-width="1"/>
<text x="343.25" y="408.75" font-size="8.6" text-anchor="end" fill="#111" font-weight="normal"  textLength="4.55" lengthAdjust="spacingAndGlyphs" stroke="#111" stroke-width="0.2">0</text>
<line x1="346.55" y1="380.10" x2="349.55" y2="380.10" stroke="#111" stroke-width="1"/>
<text x="343.25" y="382.35" font-size="8.6" text-anchor="end" fill="#111" font-weight="normal"  textLength="9.1" lengthAdjust="spacingAndGlyphs" stroke="#111" stroke-width="0.2">10</text>
<line x1="346.55" y1="353.70" x2="349.55" y2="353.70" stroke="#111" stroke-width="1"/>
<text x="343.25" y="355.95" font-size="8.6" text-anchor="end" fill="#111" font-weight="normal"  textLength="9.1" lengthAdjust="spacingAndGlyphs" stroke="#111" stroke-width="0.2">20</text>
<line x1="346.55" y1="327.30" x2="349.55" y2="327.30" stroke="#111" stroke-width="1"/>
<text x="343.25" y="329.55" font-size="8.6" text-anchor="end" fill="#111" font-weight="normal"  textLength="9.1" lengthAdjust="spacingAndGlyphs" stroke="#111" stroke-width="0.2">30</text>
<line x1="346.55" y1="300.90" x2="349.55" y2="300.90" stroke="#111" stroke-width="1"/>
<text x="343.25" y="303.15" font-size="8.6" text-anchor="end" fill="#111" font-weight="normal"  textLength="9.1" lengthAdjust="spacingAndGlyphs" stroke="#111" stroke-width="0.2">40</text>
<line x1="346.55" y1="274.50" x2="349.55" y2="274.50" stroke="#111" stroke-width="1"/>
<text x="343.25" y="276.75" font-size="8.6" text-anchor="end" fill="#111" font-weight="normal"  textLength="9.1" lengthAdjust="spacingAndGlyphs" stroke="#111" stroke-width="0.2">50</text>
<line x1="349.55" y1="406.50" x2="512.80" y2="406.50" stroke="#111" stroke-width="1.2"/>
<line x1="357.50" y1="406.50" x2="357.50" y2="409.50" stroke="#111" stroke-width="1"/>
<text x="357.50" y="419.80" font-size="8.6" text-anchor="middle" fill="#111" font-weight="normal"  textLength="4.5" lengthAdjust="spacingAndGlyphs" stroke="#111" stroke-width="0.2">7</text>
<line x1="369.70" y1="406.50" x2="369.70" y2="409.50" stroke="#111" stroke-width="1"/>
<text x="369.70" y="419.80" font-size="8.6" text-anchor="middle" fill="#111" font-weight="normal"  textLength="4.5" lengthAdjust="spacingAndGlyphs" stroke="#111" stroke-width="0.2">8</text>
<line x1="381.90" y1="406.50" x2="381.90" y2="409.50" stroke="#111" stroke-width="1"/>
<text x="381.90" y="419.80" font-size="8.6" text-anchor="middle" fill="#111" font-weight="normal"  textLength="4.5" lengthAdjust="spacingAndGlyphs" stroke="#111" stroke-width="0.2">9</text>
<line x1="394.10" y1="406.50" x2="394.10" y2="409.50" stroke="#111" stroke-width="1"/>
<text x="394.10" y="419.80" font-size="8.6" text-anchor="middle" fill="#111" font-weight="normal"  textLength="9.0" lengthAdjust="spacingAndGlyphs" stroke="#111" stroke-width="0.2">10</text>
<line x1="406.30" y1="406.50" x2="406.30" y2="409.50" stroke="#111" stroke-width="1"/>
<text x="406.30" y="419.80" font-size="8.6" text-anchor="middle" fill="#111" font-weight="normal"  textLength="9.0" lengthAdjust="spacingAndGlyphs" stroke="#111" stroke-width="0.2">11</text>
<line x1="418.50" y1="406.50" x2="418.50" y2="409.50" stroke="#111" stroke-width="1"/>
<text x="418.50" y="419.80" font-size="8.6" text-anchor="middle" fill="#111" font-weight="normal"  textLength="9.0" lengthAdjust="spacingAndGlyphs" stroke="#111" stroke-width="0.2">12</text>
<line x1="430.70" y1="406.50" x2="430.70" y2="409.50" stroke="#111" stroke-width="1"/>
<text x="430.70" y="419.80" font-size="8.6" text-anchor="middle" fill="#111" font-weight="normal"  textLength="9.0" lengthAdjust="spacingAndGlyphs" stroke="#111" stroke-width="0.2">13</text>
<line x1="442.90" y1="406.50" x2="442.90" y2="409.50" stroke="#111" stroke-width="1"/>
<text x="442.90" y="419.80" font-size="8.6" text-anchor="middle" fill="#111" font-weight="normal"  textLength="9.0" lengthAdjust="spacingAndGlyphs" stroke="#111" stroke-width="0.2">14</text>
<line x1="455.10" y1="406.50" x2="455.10" y2="409.50" stroke="#111" stroke-width="1"/>
<text x="455.10" y="419.80" font-size="8.6" text-anchor="middle" fill="#111" font-weight="normal"  textLength="9.0" lengthAdjust="spacingAndGlyphs" stroke="#111" stroke-width="0.2">15</text>
<line x1="467.30" y1="406.50" x2="467.30" y2="409.50" stroke="#111" stroke-width="1"/>
<text x="467.30" y="419.80" font-size="8.6" text-anchor="middle" fill="#111" font-weight="normal"  textLength="9.0" lengthAdjust="spacingAndGlyphs" stroke="#111" stroke-width="0.2">16</text>
<line x1="479.50" y1="406.50" x2="479.50" y2="409.50" stroke="#111" stroke-width="1"/>
<text x="479.50" y="419.80" font-size="8.6" text-anchor="middle" fill="#111" font-weight="normal"  textLength="9.0" lengthAdjust="spacingAndGlyphs" stroke="#111" stroke-width="0.2">17</text>
<line x1="491.70" y1="406.50" x2="491.70" y2="409.50" stroke="#111" stroke-width="1"/>
<text x="491.70" y="419.80" font-size="8.6" text-anchor="middle" fill="#111" font-weight="normal"  textLength="9.0" lengthAdjust="spacingAndGlyphs" stroke="#111" stroke-width="0.2">18</text>
<line x1="503.90" y1="406.50" x2="503.90" y2="409.50" stroke="#111" stroke-width="1"/>
<text x="503.90" y="419.80" font-size="8.6" text-anchor="middle" fill="#111" font-weight="normal"  textLength="9.0" lengthAdjust="spacingAndGlyphs" stroke="#111" stroke-width="0.2">19</text>
<text x="431.4" y="433" font-size="10" text-anchor="middle" fill="#111" textLength="83.8" lengthAdjust="spacingAndGlyphs">Position in CDR3γ sequence</text>
<line x1="406.30" y1="387.50" x2="406.30" y2="396.40" stroke="#222" stroke-width="0.8"/>
<line x1="404.10" y1="387.50" x2="408.50" y2="387.50" stroke="#222" stroke-width="0.9"/>
<line x1="404.10" y1="396.40" x2="408.50" y2="396.40" stroke="#222" stroke-width="0.9"/>
<line x1="418.50" y1="386.30" x2="418.50" y2="391.00" stroke="#222" stroke-width="0.8"/>
<line x1="416.30" y1="386.30" x2="420.70" y2="386.30" stroke="#222" stroke-width="0.9"/>
<line x1="416.30" y1="391.00" x2="420.70" y2="391.00" stroke="#222" stroke-width="0.9"/>
<line x1="442.90" y1="303.80" x2="442.90" y2="328.00" stroke="#222" stroke-width="0.8"/>
<line x1="440.70" y1="303.80" x2="445.10" y2="303.80" stroke="#222" stroke-width="0.9"/>
<line x1="440.70" y1="328.00" x2="445.10" y2="328.00" stroke="#222" stroke-width="0.9"/>
<line x1="455.10" y1="355.60" x2="455.10" y2="365.00" stroke="#222" stroke-width="0.8"/>
<line x1="452.90" y1="355.60" x2="457.30" y2="355.60" stroke="#222" stroke-width="0.9"/>
<line x1="452.90" y1="365.00" x2="457.30" y2="365.00" stroke="#222" stroke-width="0.9"/>
<line x1="467.30" y1="381.00" x2="467.30" y2="387.00" stroke="#222" stroke-width="0.8"/>
<line x1="465.10" y1="381.00" x2="469.50" y2="381.00" stroke="#222" stroke-width="0.9"/>
<line x1="465.10" y1="387.00" x2="469.50" y2="387.00" stroke="#222" stroke-width="0.9"/>
<line x1="406.30" y1="375.20" x2="406.30" y2="383.70" stroke="#222" stroke-width="0.8"/>
<line x1="404.10" y1="375.20" x2="408.50" y2="375.20" stroke="#222" stroke-width="0.9"/>
<line x1="404.10" y1="383.70" x2="408.50" y2="383.70" stroke="#222" stroke-width="0.9"/>
<line x1="418.50" y1="378.60" x2="418.50" y2="383.50" stroke="#222" stroke-width="0.8"/>
<line x1="416.30" y1="378.60" x2="420.70" y2="378.60" stroke="#222" stroke-width="0.9"/>
<line x1="416.30" y1="383.50" x2="420.70" y2="383.50" stroke="#222" stroke-width="0.9"/>
<line x1="430.70" y1="374.00" x2="430.70" y2="377.90" stroke="#222" stroke-width="0.8"/>
<line x1="428.50" y1="374.00" x2="432.90" y2="374.00" stroke="#222" stroke-width="0.9"/>
<line x1="428.50" y1="377.90" x2="432.90" y2="377.90" stroke="#222" stroke-width="0.9"/>
<line x1="442.90" y1="322.00" x2="442.90" y2="335.20" stroke="#222" stroke-width="0.8"/>
<line x1="440.70" y1="322.00" x2="445.10" y2="322.00" stroke="#222" stroke-width="0.9"/>
<line x1="440.70" y1="335.20" x2="445.10" y2="335.20" stroke="#222" stroke-width="0.9"/>
<line x1="455.10" y1="362.00" x2="455.10" y2="370.90" stroke="#222" stroke-width="0.8"/>
<line x1="452.90" y1="362.00" x2="457.30" y2="362.00" stroke="#222" stroke-width="0.9"/>
<line x1="452.90" y1="370.90" x2="457.30" y2="370.90" stroke="#222" stroke-width="0.9"/>
<polyline points="357.50,405.40 369.70,404.00 381.90,397.50 394.10,398.50 406.30,391.70 418.50,387.40 430.70,369.60 442.90,316.00 455.10,360.60 467.30,384.20 479.50,396.70 491.70,402.30 503.90,404.50" fill="none" stroke="#222" stroke-width="0.9"/>
<polyline points="357.50,404.60 369.70,400.60 381.90,393.30 394.10,389.70 406.30,379.00 418.50,381.50 430.70,375.90 442.90,329.30 455.10,366.30 467.30,392.60 479.50,399.30 491.70,404.00 503.90,405.80" fill="none" stroke="#222" stroke-width="0.9"/>
<circle cx="357.50" cy="405.40" r="2.6" fill="#AD0A30" stroke="#111" stroke-width="0.8"/>
<circle cx="369.70" cy="404.00" r="2.6" fill="#AD0A30" stroke="#111" stroke-width="0.8"/>
<circle cx="381.90" cy="397.50" r="2.6" fill="#AD0A30" stroke="#111" stroke-width="0.8"/>
<circle cx="394.10" cy="398.50" r="2.6" fill="#AD0A30" stroke="#111" stroke-width="0.8"/>
<circle cx="406.30" cy="391.70" r="2.6" fill="#AD0A30" stroke="#111" stroke-width="0.8"/>
<circle cx="418.50" cy="387.40" r="2.6" fill="#AD0A30" stroke="#111" stroke-width="0.8"/>
<circle cx="430.70" cy="369.60" r="2.6" fill="#AD0A30" stroke="#111" stroke-width="0.8"/>
<circle cx="442.90" cy="316.00" r="2.6" fill="#AD0A30" stroke="#111" stroke-width="0.8"/>
<circle cx="455.10" cy="360.60" r="2.6" fill="#AD0A30" stroke="#111" stroke-width="0.8"/>
<circle cx="467.30" cy="384.20" r="2.6" fill="#AD0A30" stroke="#111" stroke-width="0.8"/>
<circle cx="479.50" cy="396.70" r="2.6" fill="#AD0A30" stroke="#111" stroke-width="0.8"/>
<circle cx="491.70" cy="402.30" r="2.6" fill="#AD0A30" stroke="#111" stroke-width="0.8"/>
<circle cx="503.90" cy="404.50" r="2.6" fill="#AD0A30" stroke="#111" stroke-width="0.8"/>
<polygon points="357.50,402.20 359.90,404.60 357.50,407.00 355.10,404.60" fill="#2E4C85" stroke="#111" stroke-width="0.8"/>
<polygon points="369.70,398.20 372.10,400.60 369.70,403.00 367.30,400.60" fill="#2E4C85" stroke="#111" stroke-width="0.8"/>
<polygon points="381.90,390.90 384.30,393.30 381.90,395.70 379.50,393.30" fill="#2E4C85" stroke="#111" stroke-width="0.8"/>
<polygon points="394.10,387.30 396.50,389.70 394.10,392.10 391.70,389.70" fill="#2E4C85" stroke="#111" stroke-width="0.8"/>
<polygon points="406.30,376.60 408.70,379.00 406.30,381.40 403.90,379.00" fill="#2E4C85" stroke="#111" stroke-width="0.8"/>
<polygon points="418.50,379.10 420.90,381.50 418.50,383.90 416.10,381.50" fill="#2E4C85" stroke="#111" stroke-width="0.8"/>
<polygon points="430.70,373.50 433.10,375.90 430.70,378.30 428.30,375.90" fill="#2E4C85" stroke="#111" stroke-width="0.8"/>
<polygon points="442.90,326.90 445.30,329.30 442.90,331.70 440.50,329.30" fill="#2E4C85" stroke="#111" stroke-width="0.8"/>
<polygon points="455.10,363.90 457.50,366.30 455.10,368.70 452.70,366.30" fill="#2E4C85" stroke="#111" stroke-width="0.8"/>
<polygon points="467.30,390.20 469.70,392.60 467.30,395.00 464.90,392.60" fill="#2E4C85" stroke="#111" stroke-width="0.8"/>
<polygon points="479.50,396.90 481.90,399.30 479.50,401.70 477.10,399.30" fill="#2E4C85" stroke="#111" stroke-width="0.8"/>
<polygon points="491.70,401.60 494.10,404.00 491.70,406.40 489.30,404.00" fill="#2E4C85" stroke="#111" stroke-width="0.8"/>
<polygon points="503.90,403.40 506.30,405.80 503.90,408.20 501.50,405.80" fill="#2E4C85" stroke="#111" stroke-width="0.8"/>
<text x="399.00" y="277.20" font-size="7.8" text-anchor="middle" fill="#222" font-weight="normal"  textLength="25.5" lengthAdjust="spacingAndGlyphs" stroke="#222" stroke-width="0.2">Group 1</text>
<circle cx="419.80" cy="274.40" r="3.4" fill="#AD0A30" stroke="#111" stroke-width="0.8"/>
<text x="451.60" y="277.20" font-size="7.8" text-anchor="middle" fill="#222" font-weight="normal"  textLength="25.9" lengthAdjust="spacingAndGlyphs" stroke="#222" stroke-width="0.2">Group 2</text>
<polygon points="472.70,271.20 475.90,274.40 472.70,277.60 469.50,274.40" fill="#2E4C85" stroke="#111" stroke-width="0.8"/>
</svg>
<div class="frame"></div>
</body></html>
